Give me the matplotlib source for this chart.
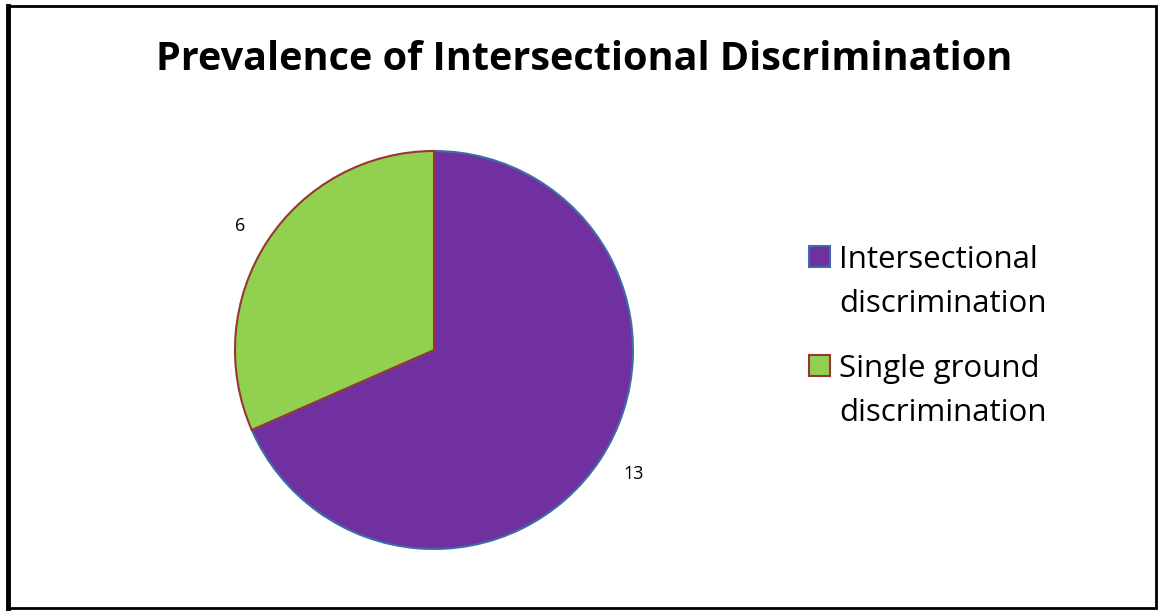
import matplotlib.pyplot as plt
from matplotlib.patches import Rectangle

categories = ["Intersectional\ndiscrimination", "Single ground\ndiscrimination"]
counts = [13, 6]
fill_colors = ["#7030A0", "#92D050"]
edge_colors = ["#3F6EA6", "#953735"]

W, H = 1158, 611
fig = plt.figure(figsize=(W / 100, H / 100), dpi=100)
plt.rcParams['font.family'] = ['Open Sans', 'DejaVu Sans']

# pie axes, placed in pixel terms (centre ~ (434, 350), radius ~ 200)
cx, cy, r = 434, 350, 200
ax = fig.add_axes([(cx - r) / W, (H - cy - r) / H, 2 * r / W, 2 * r / H])
wedges, texts = ax.pie(counts, labels=[str(c) for c in counts], colors=fill_colors,
                       startangle=90, counterclock=False, labeldistance=1.135,
                       textprops={'fontsize': 13, 'color': 'black'})
for w, ec in zip(wedges, edge_colors):
    w.set_edgecolor(ec)
    w.set_linewidth(1.5)
ax.set_xlim(-1.005, 1.005)
ax.set_ylim(-1.005, 1.005)
ax.set_aspect('equal')

fig.text(584 / W, 1 - 59 / H, "Prevalence of Intersectional Discrimination",
         ha='center', va='center', fontsize=28.5, fontweight='bold')

# legend: square key aligned with the first line of each label
for i, (label, f, e) in enumerate(zip(categories, fill_colors, edge_colors)):
    base = 267 + i * 109
    fig.add_artist(Rectangle((809 / W, 1 - base / H), 21 / W, 21 / H, transform=fig.transFigure,
                             facecolor=f, edgecolor=e, linewidth=1.5))
    # va='baseline' aligns the last line, so anchor at the second line's baseline
    fig.text(839 / W, 1 - (base + 45) / H, label, ha='left', va='baseline',
             fontsize=22.5, linespacing=1.63)

# frame around the chart area (left side drawn heavier, as in the source)
fig.add_artist(Rectangle((8 / W, 3 / H), 1148 / W, 602 / H, transform=fig.transFigure,
                         fill=False, edgecolor='black', linewidth=2))
fig.add_artist(plt.Line2D([8 / W, 8 / W], [3 / H, 1 - 6 / H], transform=fig.transFigure,
                          color='black', linewidth=3.5))

fig.savefig("out.png", dpi=100)
